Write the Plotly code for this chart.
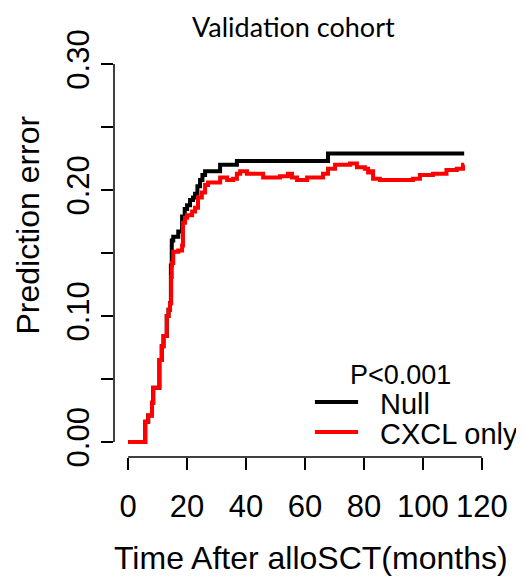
import plotly.graph_objects as go

# months after alloSCT and prediction error
time_null = [0, 5.1, 5.8, 6.8, 8.1, 8.5, 10.2, 10.6, 11.4, 12.0, 13.1, 13.7, 14.2,
             14.5, 14.8, 15.3, 17.0, 18.3, 19.2, 20.0, 21.0, 22.0, 22.7, 23.5, 24.4,
             25.2, 26.1, 30.5, 31.2, 36.3, 36.9, 67.8, 114.0]
err_null = [0, 0.0, 0.016, 0.021, 0.031, 0.043, 0.043, 0.065, 0.076, 0.084, 0.100,
            0.105, 0.110, 0.140, 0.160, 0.163, 0.167, 0.179, 0.185, 0.188, 0.192,
            0.194, 0.197, 0.203, 0.208, 0.212, 0.215, 0.215, 0.220, 0.220, 0.223,
            0.229, 0.229]

time_cxcl = [0, 5.1, 5.8, 6.8, 8.1, 8.5, 10.2, 10.6, 11.4, 12.0, 13.1, 13.7, 14.2,
             14.6, 14.8, 15.3, 17.0, 18.3, 18.6, 19.3, 20.0, 21.7, 22.7, 23.7, 25.0,
             26.1, 27.1, 30.2, 31.2, 33.6, 35.6, 36.9, 38.0, 40.3, 42.4, 45.8, 51.5,
             54.2, 55.6, 57.3, 60.7, 66.1, 67.8, 70.2, 75.3, 77.6, 80.3, 81.4, 82.3,
             83.1, 85.4, 96.6, 99.0, 103.4, 108.0, 111.5, 113.6, 114.0]
err_cxcl = [0, 0.0, 0.016, 0.021, 0.031, 0.043, 0.043, 0.065, 0.076, 0.084, 0.100,
            0.105, 0.110, 0.131, 0.142, 0.151, 0.152, 0.156, 0.174, 0.178, 0.180,
            0.183, 0.186, 0.194, 0.198, 0.204, 0.206, 0.206, 0.210, 0.208, 0.209,
            0.213, 0.215, 0.213, 0.213, 0.210, 0.211, 0.213, 0.210, 0.208, 0.210,
            0.213, 0.217, 0.220, 0.221, 0.218, 0.217, 0.214, 0.215, 0.209, 0.208,
            0.209, 0.212, 0.213, 0.216, 0.217, 0.220, 0.220]

series_names = ["Null", "CXCL only"]
series_colors = ["black", "#ff0000"]

x_ticks = [0, 20, 40, 60, 80, 100, 120]
y_ticks = [0, 0.05, 0.10, 0.15, 0.20, 0.25, 0.30]
y_labels = ["0.00", "", "0.10", "", "0.20", "", "0.30"]

FONT = "Liberation Sans, Arial, sans-serif"

fig = go.Figure()
for xs, ys, name, col in zip([time_null, time_cxcl], [err_null, err_cxcl],
                             series_names, series_colors):
    fig.add_trace(go.Scatter(x=xs, y=ys, mode="lines", name=name, showlegend=False,
                             line=dict(color=col, width=4, shape="hv")))

# R style detached axis lines, running only between first and last tick
fig.add_shape(type="line", xref="x", yref="paper", x0=0, x1=120, y0=0, y1=0,
              line=dict(color="black", width=1.5))
fig.add_shape(type="line", xref="paper", yref="y", x0=0, x1=0, y0=0, y1=0.30,
              line=dict(color="black", width=1.5))

# legend drawn by hand, like R's legend() with bty="n"
fig.add_annotation(text="P<0.001", xref="paper", yref="paper", x=0.749, y=0.201,
                   xanchor="center", yanchor="middle", showarrow=False,
                   font=dict(family=FONT, size=27, color="black"))
for i, (name, col) in enumerate(zip(series_names, series_colors)):
    ly = 0.135 - i * 0.0735
    fig.add_shape(type="line", xref="paper", yref="paper", x0=0.526, x1=0.639,
                  y0=ly, y1=ly, line=dict(color=col, width=4))
    fig.add_annotation(text=name, xref="paper", yref="paper", x=0.69, y=ly - 0.004,
                       xanchor="left", yanchor="middle", showarrow=False,
                       font=dict(family=FONT, size=29, color="black"))

fig.update_xaxes(range=[-4.8, 124.8], tickvals=x_ticks, showgrid=False,
                 zeroline=False, showline=False, ticks="outside", ticklen=12,
                 tickwidth=1.5, tickcolor="black", ticklabelstandoff=10,
                 automargin=False,
                 tickfont=dict(family=FONT, size=31, color="black"))
fig.update_yaxes(range=[-0.012, 0.312], tickvals=y_ticks, ticktext=y_labels,
                 showgrid=False, zeroline=False, showline=False, ticks="outside",
                 ticklen=12, tickwidth=1.5, tickcolor="black", tickangle=-90,
                 ticklabelstandoff=0, automargin=False,
                 tickfont=dict(family=FONT, size=31, color="black"))

fig.add_annotation(text="Time After alloSCT(months)", xref="paper", yref="paper",
                   x=0.516, y=-0.248, xanchor="center", yanchor="middle",
                   showarrow=False, font=dict(family=FONT, size=32, color="black"))
fig.add_annotation(text="Prediction error", xref="paper", yref="paper",
                   x=-0.226, y=0.569, xanchor="center", yanchor="middle",
                   textangle=-90, showarrow=False,
                   font=dict(family=FONT, size=32, color="black"))
fig.add_annotation(text="Validation cohort", xref="paper", yref="paper",
                   x=0.469, y=1.056, xanchor="center", yanchor="middle",
                   showarrow=False,
                   font=dict(family="Lato, sans-serif", size=27, color="black"))

# page body adds an 8px margin, so the figure is 8px smaller than the window
fig.update_layout(
    width=516, height=574,
    margin=dict(l=106, r=28, t=41, b=125),
    plot_bgcolor="white", paper_bgcolor="white",
    showlegend=False,
)

fig.write_html("out.html")
